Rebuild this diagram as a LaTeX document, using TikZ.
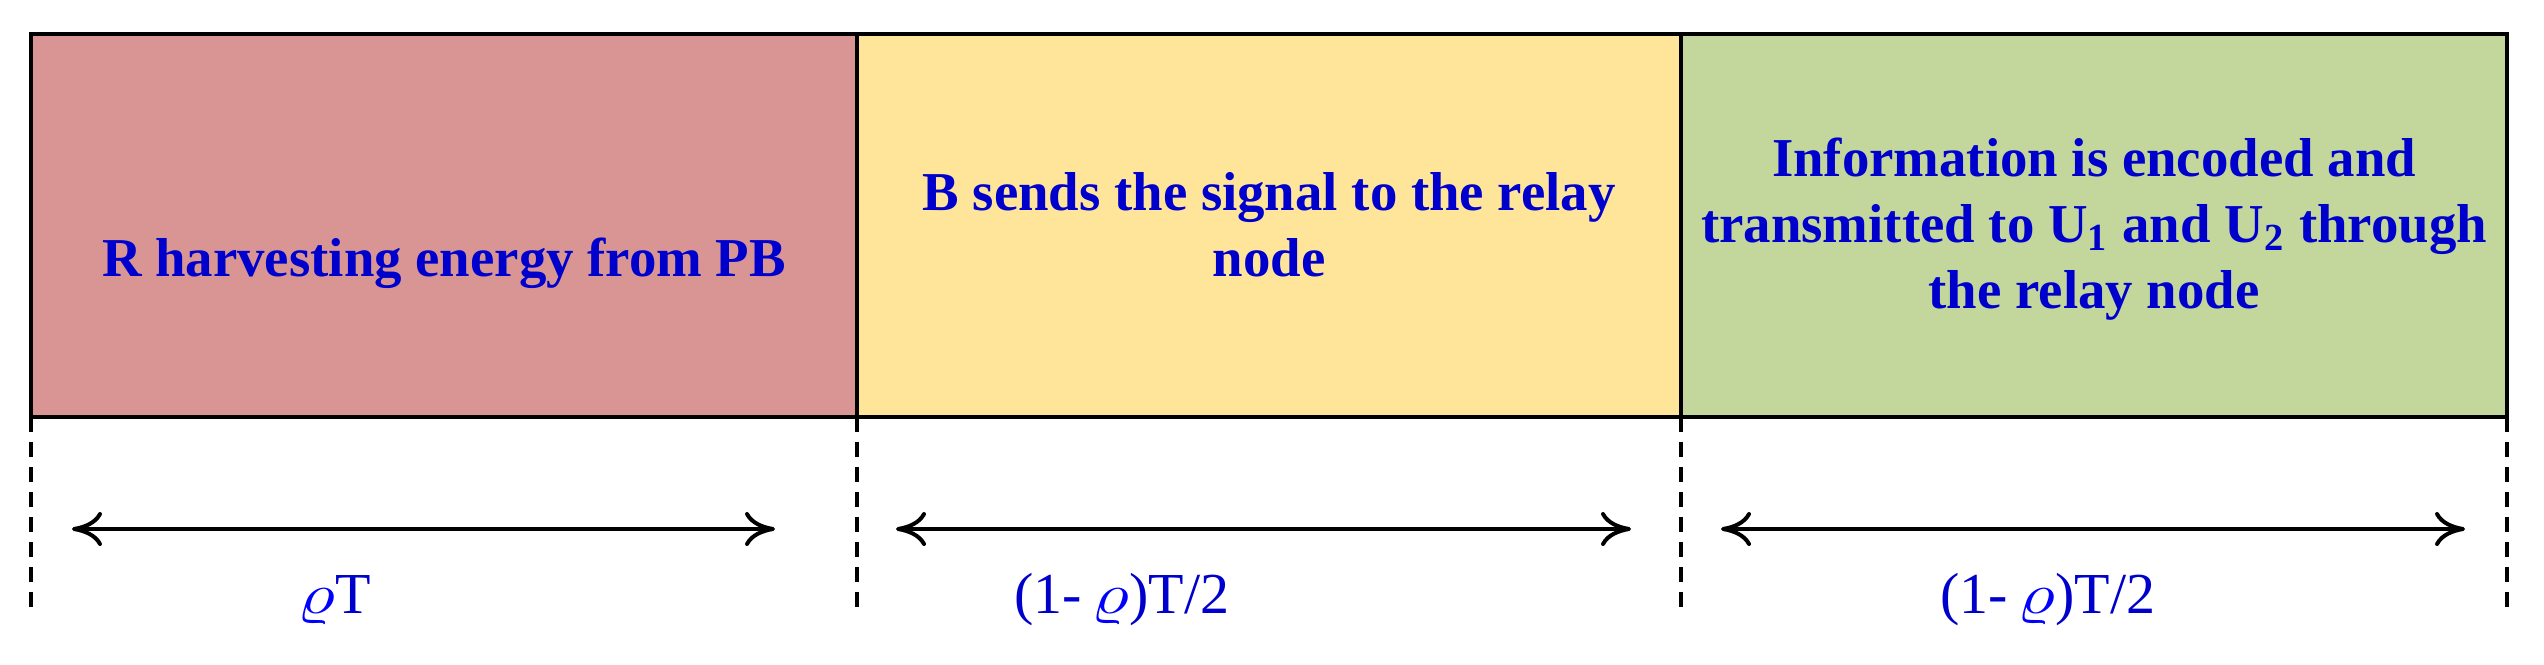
\documentclass[tikz,border=0pt]{standalone}
\usepackage{fontspec}
\usepackage{graphicx}
\setmainfont{Liberation Serif}
\usetikzlibrary{arrows.meta}
\definecolor{redfill}{HTML}{D99594}
\definecolor{yellowfill}{HTML}{FFE599}
\definecolor{greenfill}{HTML}{C3D69B}
\definecolor{txtblue}{HTML}{0000CC}
\definecolor{rhoblue}{HTML}{0000FF}
\newcommand{\myrho}{\textcolor{rhoblue}{\scalebox{1.3}[1.0]{$\varrho$}}}
\begin{document}
\begin{tikzpicture}[x=0.25pt,y=-0.25pt,
  phase/.style={draw=black, line width=1pt, inner sep=0pt, outer sep=0pt, anchor=north west, minimum height=95.75pt},
  phasetext/.style={text=txtblue, font=\bfseries\fontsize{13.7}{16.5}\selectfont, align=center, anchor=base, inner sep=0pt},
  durlabel/.style={text=txtblue, font=\fontsize{14.5}{16}\selectfont, anchor=base, inner sep=0pt},
  boundary/.style={line width=1pt, dash pattern=on 3.75pt off 2.5pt},
  durarrow/.style={line width=1pt, {Computer Modern Rightarrow[length=7.5pt,width=8.5pt]}-{Computer Modern Rightarrow[length=7.5pt,width=8.5pt]}}
]
\useasboundingbox (0,0) rectangle (2544,664);
% phase boxes
\node[phase, fill=redfill, minimum width=206.5pt] (b1) at (31,34) {};
\node[phase, fill=yellowfill, minimum width=206pt] (b2) at (857,34) {};
\node[phase, fill=greenfill, minimum width=206.5pt] (b3) at (1681,34) {};
% phase texts (anchored at the baseline of the last line)
\node[phasetext] (t1) at (444,276) {R harvesting energy from PB};
\node[phasetext] (t2) at (1269,276) {B sends the signal to the relay\\node};
\node[phasetext] (t3) at (2094,308) {Information is encoded and\\transmitted to U\textsubscript{1} and U\textsubscript{2} through\\the relay node};
% dashed boundaries
\coordinate (d0) at (31,612);
\coordinate (d1) at (857,612);
\coordinate (d2) at (1681,612);
\coordinate (d3) at (2507,612);
\draw[boundary] (b1.south west) -- (d0);
\draw[boundary] (b1.south east) -- (d1);
\draw[boundary] (b2.south east) -- (d2);
\draw[boundary] (b3.south east) -- (d3);
% duration arrows
\coordinate (a1l) at (72,529);
\coordinate (a1r) at (775,529);
\coordinate (a2l) at (896,529);
\coordinate (a2r) at (1631,529);
\coordinate (a3l) at (1721,529);
\coordinate (a3r) at (2465,529);
\draw[durarrow] (a1l) -- (a1r);
\draw[durarrow] (a2l) -- (a2r);
\draw[durarrow] (a3l) -- (a3r);
% duration labels
\node[durlabel] (l1) at (334,613) {\myrho T};
\node[durlabel] (l2) at (1122,613) {(1-\,\myrho)T/2};
\node[durlabel] (l3) at (2048,613) {(1-\,\myrho)T/2};
\end{tikzpicture}
\end{document}
